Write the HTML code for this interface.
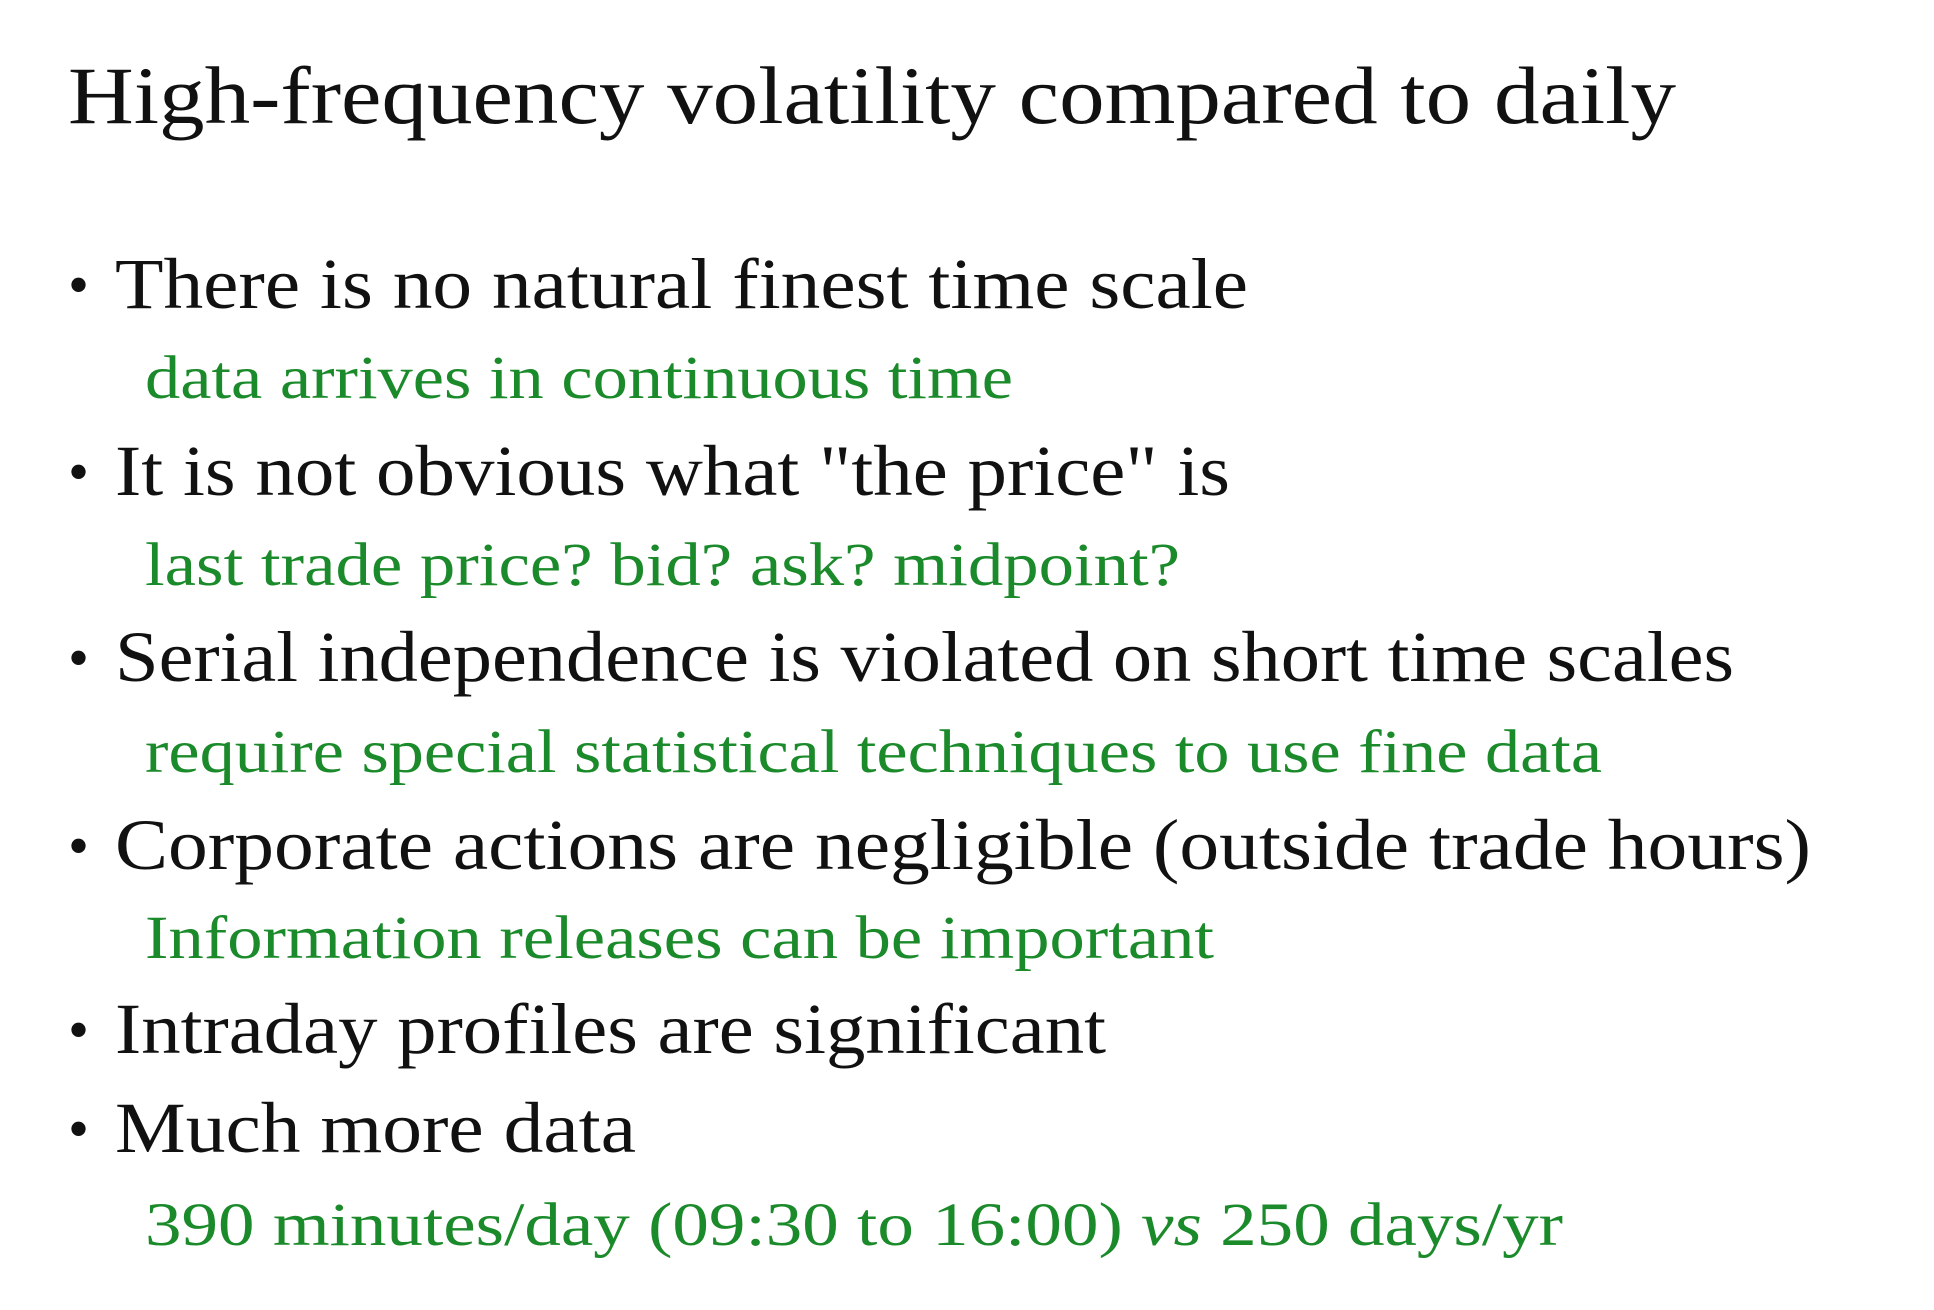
<!DOCTYPE html>
<html><head><meta charset="utf-8"><style>
html,body{margin:0;padding:0;background:#fff;}
svg{display:block}
text{font-family:"Liberation Serif",serif;}
.b{font-size:72px;fill:#111}
.d{font-size:60px;fill:#111}
.g{font-size:61px;fill:#1a8a2a}
.t{font-size:82px;fill:#111}
</style></head><body>
<svg width="1934" height="1310" viewBox="0 0 1934 1310">
<text class="t" x="68" y="123" textLength="1608" lengthAdjust="spacingAndGlyphs">High-frequency volatility compared to daily</text>

<text class="d" x="68" y="305">•</text>
<text class="b" x="115" y="308" textLength="1133" lengthAdjust="spacingAndGlyphs">There is no natural finest time scale</text>
<text class="g" x="145" y="398" textLength="868" lengthAdjust="spacingAndGlyphs">data arrives in continuous time</text>

<text class="d" x="68" y="492">•</text>
<text class="b" x="115" y="495" textLength="1115" lengthAdjust="spacingAndGlyphs">It is not obvious what "the price" is</text>
<text class="g" x="145" y="585" textLength="1035" lengthAdjust="spacingAndGlyphs">last trade price? bid? ask? midpoint?</text>

<text class="d" x="68" y="678">•</text>
<text class="b" x="115" y="681" textLength="1619" lengthAdjust="spacingAndGlyphs">Serial independence is violated on short time scales</text>
<text class="g" x="145" y="772" textLength="1457" lengthAdjust="spacingAndGlyphs">require special statistical techniques to use fine data</text>

<text class="d" x="68" y="866">•</text>
<text class="b" x="115" y="869" textLength="1696" lengthAdjust="spacingAndGlyphs">Corporate actions are negligible (outside trade hours)</text>
<text class="g" x="145" y="958" textLength="1069" lengthAdjust="spacingAndGlyphs">Information releases can be important</text>

<text class="d" x="68" y="1050">•</text>
<text class="b" x="115" y="1053" textLength="991" lengthAdjust="spacingAndGlyphs">Intraday profiles are significant</text>

<text class="d" x="68" y="1149">•</text>
<text class="b" x="115" y="1152" textLength="521" lengthAdjust="spacingAndGlyphs">Much more data</text>
<text class="g" x="145" y="1245" textLength="1418" lengthAdjust="spacingAndGlyphs">390 minutes/day (09:30 to 16:00) <tspan font-style="italic">vs</tspan> 250 days/yr</text>
</svg>
</body></html>
